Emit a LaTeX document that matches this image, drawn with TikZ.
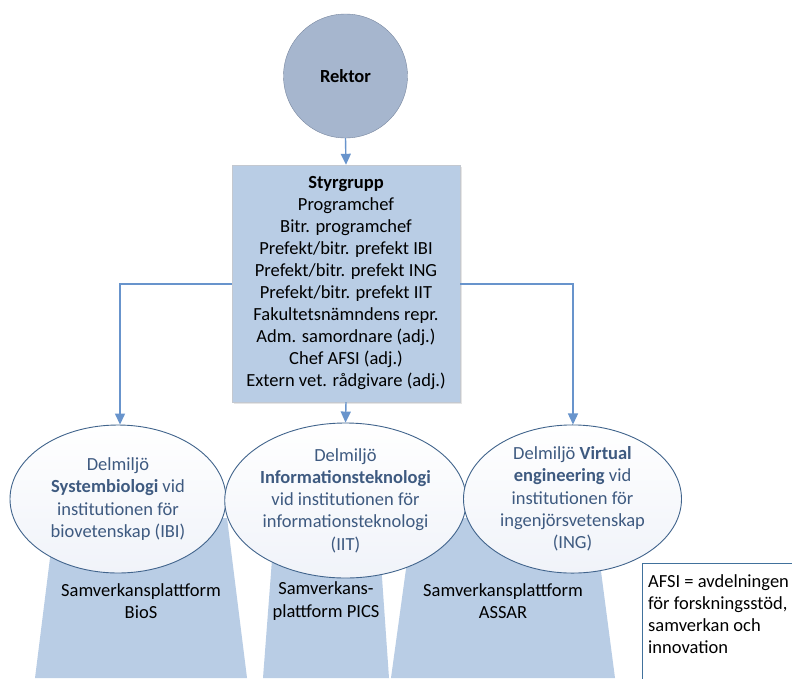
\documentclass[tikz,border=0pt]{standalone}
\usepackage{fontspec}
\setmainfont{Carlito}
\usetikzlibrary{shapes.geometric,arrows.meta,shadows}
\definecolor{rektorfill}{RGB}{166,182,206}
\definecolor{rektordraw}{RGB}{120,135,160}
\definecolor{boxfill}{RGB}{185,205,229}
\definecolor{boxdraw}{RGB}{195,200,208}
\definecolor{conn}{RGB}{104,148,204}
\definecolor{elldraw}{RGB}{65,100,140}
\definecolor{elltext}{RGB}{62,90,128}
\definecolor{ellbottom}{RGB}{240,243,249}
\definecolor{notedraw}{RGB}{65,113,156}
\tikzset{
  x=1pt, y=-1pt,
  basefont/.style={font=\fontsize{18.5}{22.3}\selectfont},
  rektorstyle/.style={circle, draw=rektordraw, fill=rektorfill, minimum size=124pt, inner sep=0pt, font=\fontsize{18.5}{22.5}\selectfont\bfseries},
  groupbox/.style={rectangle, draw=boxdraw, fill=boxfill, minimum width=228pt, minimum height=237pt, inner sep=0pt, align=center, font=\fontsize{18.5}{22}\selectfont, drop shadow={opacity=0.2, shadow xshift=2pt, shadow yshift=-2pt}},
  envell/.style={ellipse, draw=elldraw, line width=0.9pt, top color=white, bottom color=ellbottom, inner sep=0pt, align=center, text=elltext, basefont},
  platform/.style={fill=boxfill},
  platlabel/.style={align=center, inner sep=0pt, basefont},
  connector/.style={draw=conn, line width=1.4pt},
  arr/.style={connector, -{Triangle[width=10pt,length=11pt]}},
}
\begin{document}
\begin{tikzpicture}
\clip (0,0) rectangle (792,678);
\fill[white] (0,0) rectangle (792,678);
% platform trapezoids
\path[platform] (55,518) -- (227,518) -- (247,678) -- (35,678) -- cycle;
\path[platform] (275,520) -- (378,520) -- (389,678) -- (263,678) -- cycle;
\path[platform] (413,518) -- (594,518) -- (615,678) -- (391,678) -- cycle;
\node[platlabel] (bios) at (141,601) {Samverkansplattform\\BioS};
\node[platlabel] (pics) at (326,601) {Samverkans-\\plattform PICS};
\node[platlabel] (assar) at (503,601) {Samverkansplattform\\ASSAR};
% top
\node[rektorstyle] (rektor) at (345.5,76) {Rektor};
\node[groupbox] (styr) at (346,283.5) {\textbf{Styrgrupp}\\Programchef\\Bitr. programchef\\Prefekt/bitr. prefekt IBI\\Prefekt/bitr. prefekt ING\\Prefekt/bitr. prefekt IIT\\Fakultetsnämndens repr.\\Adm. samordnare (adj.)\\Chef AFSI (adj.)\\Extern vet. rådgivare (adj.)};
% ellipses
\node[envell, minimum width=216pt, minimum height=148pt] (ibi) at (118,499) {Delmiljö\\\textbf{Systembiologi} vid\\institutionen för\\biovetenskap (IBI)};
\node[envell, minimum width=227pt, minimum height=155pt] (iit) at (345.5,500.5) {Delmiljö\\\textbf{Informationsteknologi}\\vid institutionen för\\informationsteknologi\\(IIT)};
\node[envell, minimum width=218pt, minimum height=148pt] (ing) at (572.5,499) {Delmiljö \textbf{Virtual}\\\textbf{engineering} vid\\institutionen för\\ingenjörsvetenskap\\(ING)};
% connectors
\draw[arr] (rektor.south) -- (styr.north);
\coordinate (lc) at (120,284);
\coordinate (rc) at (573,284);
\draw[arr] (styr.west |- lc) -- (lc) -- (ibi.north -| lc);
\draw[arr] (styr.east |- rc) -- (rc) -- (ing.north -| rc);
\draw[arr] (styr.south) -- (iit.north);
% note
\draw[draw=notedraw, fill=white, line width=1pt] (642,563) rectangle (800,690);
\node[anchor=north west, inner sep=0pt, align=left, basefont] (note) at (648,574) {AFSI = avdelningen\\för forskningsstöd,\\samverkan och\\innovation};
\end{tikzpicture}
\end{document}
